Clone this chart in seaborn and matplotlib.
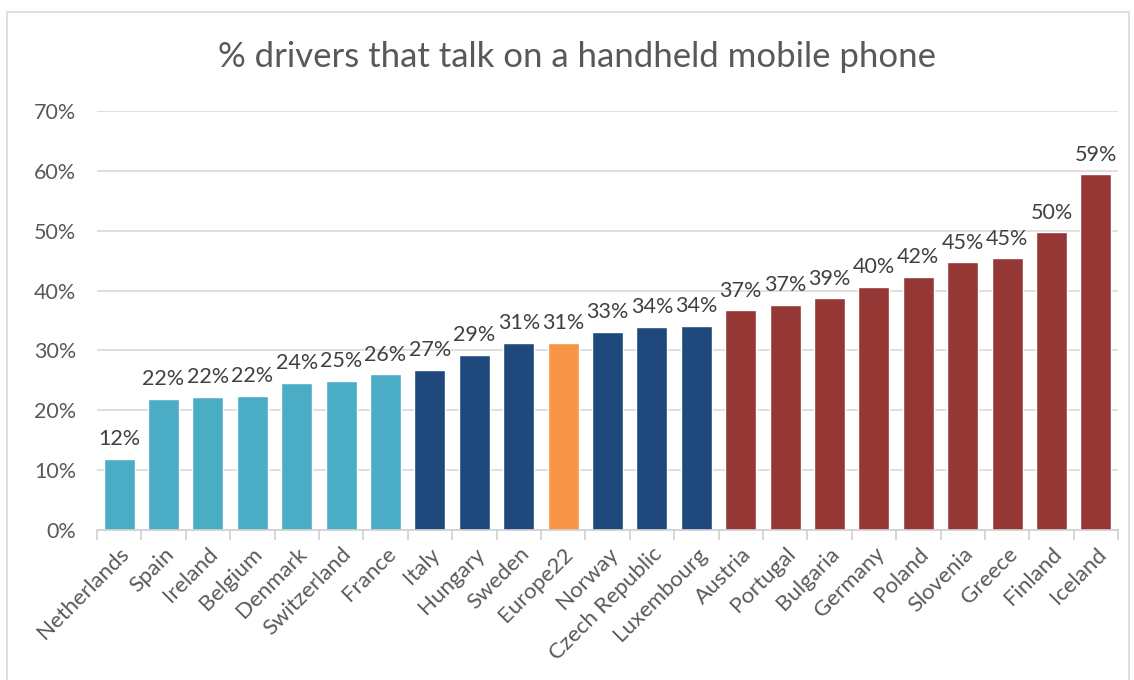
import pandas as pd
import seaborn as sns
import matplotlib.pyplot as plt
from matplotlib.ticker import FixedLocator, PercentFormatter

# data
countries = ["Netherlands", "Spain", "Ireland", "Belgium", "Denmark", "Switzerland",
             "France", "Italy", "Hungary", "Sweden", "Europe22", "Norway",
             "Czech Republic", "Luxembourg", "Austria", "Portugal", "Bulgaria",
             "Germany", "Poland", "Slovenia", "Greece", "Finland", "Iceland"]
values = [11.9, 21.9, 22.3, 22.4, 24.6, 24.9, 26.0, 26.8, 29.3, 31.3, 31.3, 33.1,
          33.9, 34.1, 36.7, 37.6, 38.7, 40.6, 42.3, 44.7, 45.4, 49.7, 59.4]
labels = ["12%", "22%", "22%", "22%", "24%", "25%", "26%", "27%", "29%", "31%", "31%",
          "33%", "34%", "34%", "37%", "37%", "39%", "40%", "42%", "45%", "45%", "50%", "59%"]
groups = ["low"] * 7 + ["mid"] * 3 + ["eu"] + ["mid"] * 3 + ["high"] * 9

colours = {"low": "#4BACC6", "mid": "#1F497D", "eu": "#F79646", "high": "#953735"}

df = pd.DataFrame({"country": countries, "value": values, "group": groups})

sns.set_theme(style="white")
plt.rcParams['font.family'] = ['Lato', 'DejaVu Sans']
text_col = "#595959"

fig = plt.figure(figsize=(11.34, 6.8), dpi=100)
ax = fig.add_axes([0.0855, 0.2206, 0.9005, 0.6162])

sns.barplot(data=df, x="country", y="value", hue="group", palette=colours,
            dodge=False, width=0.7, legend=False, ax=ax, saturation=1)

# labels above bars
for i, (v, lab) in enumerate(zip(values, labels)):
    ax.text(i, v + 1.6, lab, ha="center", va="bottom", fontsize=15.5, color="#404040")

ax.set_ylim(0, 70)
ax.set_xlim(-0.5, len(countries) - 0.5)
ax.set_yticks(range(0, 71, 10))
ax.yaxis.set_major_formatter(PercentFormatter(decimals=0))
ax.yaxis.grid(True, color="#D9D9D9", linewidth=1.2)
ax.set_axisbelow(True)
ax.set_xlabel("")
ax.set_ylabel("")

for s in ["top", "right", "left"]:
    ax.spines[s].set_visible(False)
ax.spines["bottom"].set_color("#D0D0D0")
ax.spines["bottom"].set_linewidth(1.2)

ax.tick_params(axis="y", length=0, pad=15, labelsize=15.5, labelcolor=text_col)
ax.tick_params(axis="x", which="major", length=0, pad=10, labelsize=16, labelcolor=text_col)
ax.xaxis.set_minor_locator(FixedLocator([i - 0.5 for i in range(len(countries) + 1)]))
ax.tick_params(axis="x", which="minor", length=7, color="#D0D0D0", width=1.2, bottom=True)
plt.setp(ax.get_xticklabels(), rotation=45, ha="right", rotation_mode="anchor")

fig.text(0.509, 0.916, "% drivers that talk on a handheld mobile phone",
         ha="center", va="center", fontsize=25, color=text_col)

# outer chart border
fig.patches.append(plt.Rectangle((0.006, -0.01), 0.99, 0.992, transform=fig.transFigure,
                                 fill=False, edgecolor="#D9D9D9", linewidth=1.2))

plt.savefig("out.png", dpi=100)
